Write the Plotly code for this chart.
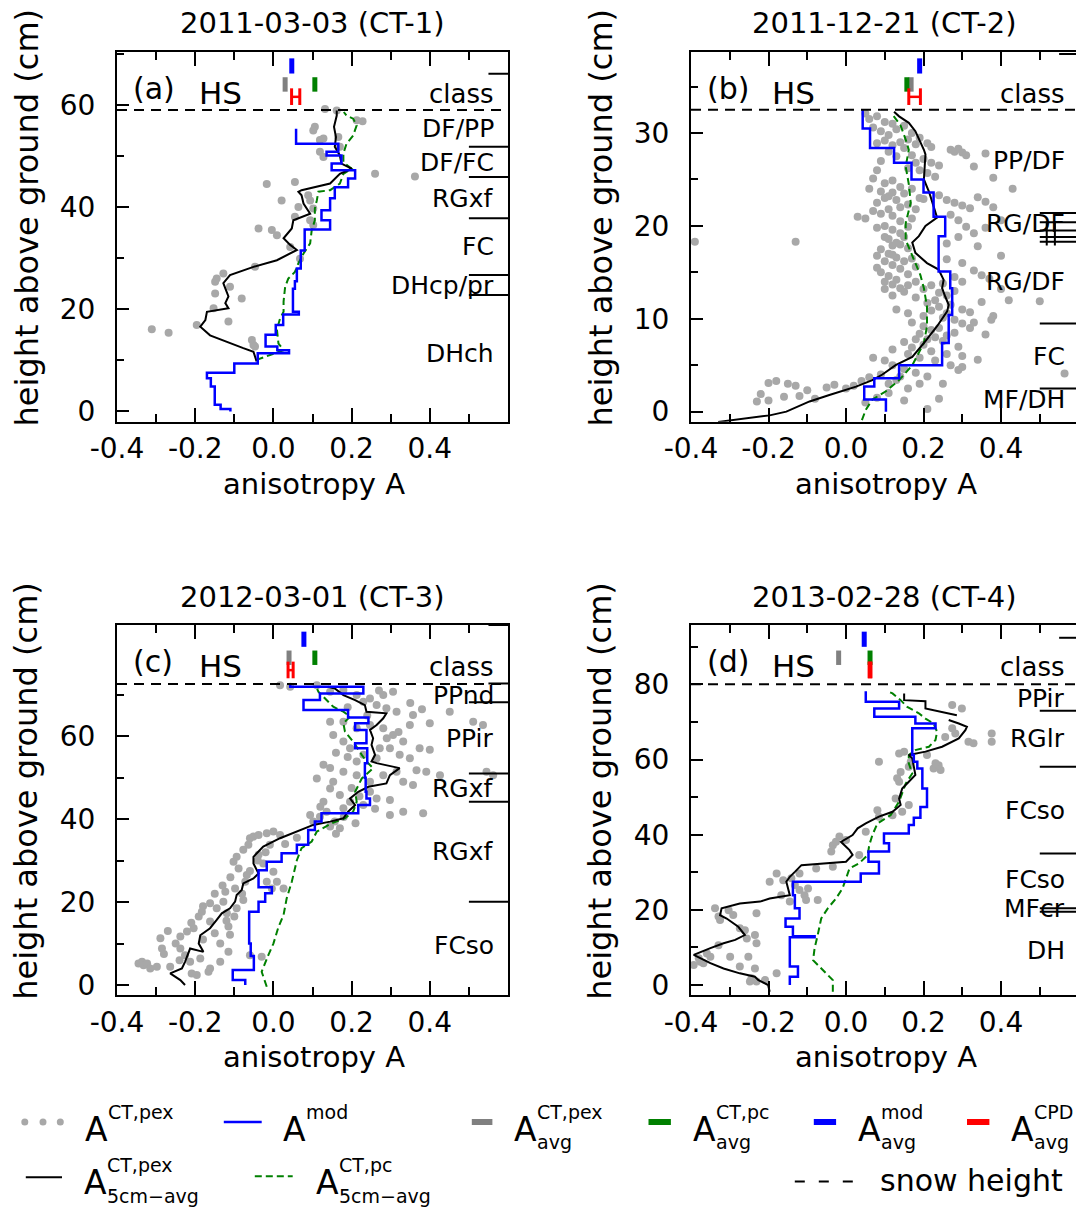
import plotly.graph_objects as go

W, H = 1076, 1207
FONT = "DejaVu Sans"
BLACK, BLUE, GREEN, RED, GREY = "#000000", "#0000ff", "#008000", "#ff0000", "#a8a8a8"

# ---------------------------------------------------------------------------
# Data: every profile is a list of (anisotropy A, height above ground in cm)
# ---------------------------------------------------------------------------

titles = ["2011-03-03 (CT-1)", "2011-12-21 (CT-2)", "2012-03-01 (CT-3)", "2013-02-28 (CT-4)"]
tags = ["(a)", "(b)", "(c)", "(d)"]
snow_height = [59.0, 32.5, 72.6, 80.0]

# profile-averaged anisotropy (drawn as short bars above the snow surface)
avg_pex = [0.030, 0.168, 0.040, -0.019]
avg_pc = [0.106, 0.157, 0.106, 0.062]
avg_mod = [0.047, 0.190, 0.078, 0.047]
avg_cpd = [0.057, 0.177, 0.044, 0.062]
avg_cpd_err = [0.0105, 0.015, 0.0065, 0.0]

# --- CT-1 -------------------------------------------------------------------
pex_a = [(0.162, 58.9), (0.132, 59.2), (0.106, 55.7), (0.102, 55.0), (0.213, 57.0), (0.228, 56.8),
         (0.119, 53.1), (0.128, 53.4), (0.166, 53.7), (0.170, 51.8), (0.119, 50.8), (0.128, 49.8),
         (0.260, 46.5), (0.362, 46.0), (-0.017, 44.5), (0.055, 44.9), (0.021, 41.3), (0.089, 42.3),
         (0.094, 41.3), (0.064, 40.0), (0.102, 39.7), (0.055, 38.1), (0.094, 37.4), (0.102, 36.5),
         (-0.038, 35.8), (-0.004, 35.5), (0.009, 34.5), (0.043, 32.2), (0.068, 29.9), (-0.047, 28.3),
         (-0.128, 27.0), (-0.145, 26.0), (-0.149, 25.4), (-0.111, 24.4), (-0.149, 23.1), (-0.081, 22.1),
         (-0.153, 20.2), (-0.115, 17.6), (-0.196, 16.9), (-0.311, 16.1), (-0.268, 15.4), (-0.055, 14.0),
         (-0.051, 13.0), (-0.047, 12.7)]
avg5_a = [(-0.043, 9.8), (-0.051, 11.7), (-0.077, 12.4), (-0.145, 14.3), (-0.162, 14.9), (-0.187, 16.6),
          (-0.174, 17.9), (-0.170, 19.5), (-0.115, 20.2), (-0.123, 21.2), (-0.115, 22.5), (-0.123, 24.1),
          (-0.128, 25.1), (-0.111, 26.7), (-0.051, 28.3), (0.009, 29.6), (0.060, 31.6), (0.043, 32.6),
          (0.026, 33.9), (0.047, 35.8), (0.051, 37.4), (0.094, 38.7), (0.077, 40.7), (0.072, 42.3),
          (0.064, 43.0), (0.072, 43.3), (0.106, 43.9), (0.145, 44.6), (0.170, 46.5), (0.200, 47.5),
          (0.174, 48.5), (0.170, 50.1), (0.157, 51.8), (0.160, 53.7), (0.155, 55.7), (0.162, 57.9),
          (0.162, 58.9)]
pc5_a = [(-0.043, 10.1), (-0.009, 11.1), (0.026, 12.0), (0.013, 13.3), (0.009, 16.0), (0.017, 18.2),
         (0.026, 19.5), (0.026, 21.5), (0.030, 24.4), (0.038, 26.0), (0.055, 27.3), (0.064, 29.0),
         (0.077, 30.9), (0.094, 32.9), (0.098, 35.5), (0.106, 37.4), (0.106, 39.7), (0.111, 41.3),
         (0.115, 43.0), (0.145, 43.3), (0.170, 44.6), (0.179, 46.5), (0.200, 47.5), (0.179, 48.8),
         (0.179, 50.5), (0.187, 52.4), (0.204, 54.0), (0.213, 56.0), (0.204, 57.3), (0.187, 57.9),
         (0.180, 58.6)]
# modelled layers: (A, layer bottom); the last entry marks the top of the uppermost layer
mod_a = [(-0.110, 0.0), (-0.135, 0.5), (-0.150, 1.3), (-0.160, 4.9), (-0.170, 6.5), (-0.100, 7.6),
         (-0.040, 9.4), (0.040, 11.4), (0.010, 12.0), (-0.020, 12.7), (0.006, 15.0), (0.025, 16.9),
         (0.065, 19.0), (0.050, 19.5), (0.055, 24.0), (0.060, 25.5), (0.070, 28.0), (0.080, 31.5),
         (0.145, 35.6), (0.123, 37.4), (0.145, 39.4), (0.157, 41.7), (0.191, 43.9), (0.209, 45.6),
         (0.149, 47.2), (0.174, 48.5), (0.136, 50.1), (0.166, 50.8), (0.058, 52.4), (0.058, 55.3)]
class_lines_a = [66.1, 51.8, 45.9, 37.8, 26.7, 22.8]
class_names_a = ["DF/PP", "DF/FC", "RGxf", "FC", "DHcp/pr", "DHch"]
class_pos_a = [55.3, 48.8, 41.7, 32.2, 24.7, 11.4]

# --- CT-2 -------------------------------------------------------------------
pex_b = [(0.05, 32.1), (0.06, 31.5), (0.08, 31.8), (0.10, 31.2), (0.12, 31.0), (0.15, 30.8), (0.07, 30.6),
         (0.09, 30.2), (0.13, 30.4), (0.17, 30.0), (0.11, 29.8), (0.19, 29.5), (0.21, 28.9), (0.22, 28.5),
         (0.27, 28.2), (0.28, 28.0), (0.29, 28.3), (0.30, 27.9), (0.31, 27.6), (0.36, 27.8), (0.15, 28.4),
         (0.17, 27.6), (0.20, 27.2), (0.22, 26.8), (0.24, 26.5), (0.16, 26.2), (0.19, 26.0),
         (0.07, 25.1), (0.10, 24.6), (0.12, 24.9), (0.14, 24.2), (0.09, 23.7), (0.11, 23.2), (0.13, 22.8),
         (0.15, 23.5), (0.17, 24.0), (0.16, 22.3), (0.08, 22.5), (0.20, 22.9), (0.24, 23.3), (0.26, 22.8),
         (0.28, 22.5), (0.30, 22.2), (0.34, 23.1), (0.36, 22.6), (0.32, 21.9), (0.38, 22.0),
         (0.03, 21.0), (0.05, 20.8), (0.09, 21.3), (0.12, 21.1), (0.14, 20.5), (0.10, 20.0), (0.12, 19.6),
         (0.14, 19.2), (0.11, 18.6), (0.13, 18.2), (0.15, 18.8), (0.16, 19.9), (0.17, 20.8), (0.27, 21.2),
         (0.29, 20.6), (0.31, 19.9), (0.33, 19.2), (0.29, 18.8), (0.26, 18.1), (-0.13, 18.3), (-0.39, 18.3),
         (0.09, 17.5), (0.11, 17.0), (0.13, 16.6), (0.10, 16.2), (0.12, 15.8), (0.14, 15.4), (0.09, 15.0),
         (0.11, 14.6), (0.13, 14.2), (0.16, 14.8), (0.18, 15.6), (0.26, 16.4), (0.30, 16.0), (0.33, 15.2),
         (0.35, 14.7), (0.37, 14.3), (0.30, 14.0), (0.25, 13.8), (0.28, 14.5),
         (0.10, 13.2), (0.12, 12.5), (0.15, 12.9), (0.18, 12.3), (0.21, 11.7), (0.23, 12.0), (0.27, 11.5),
         (0.30, 11.0), (0.32, 10.7), (0.35, 11.8), (0.13, 11.0), (0.16, 10.6), (0.20, 10.3), (0.25, 10.1),
         (0.38, 10.3), (0.50, 11.9), (0.375, 9.9),
         (0.17, 9.6), (0.20, 9.2), (0.22, 8.8), (0.19, 8.4), (0.23, 8.0), (0.25, 7.6), (0.20, 7.2),
         (0.17, 6.9), (0.22, 6.5), (0.26, 6.2), (0.29, 7.0), (0.28, 8.5), (0.12, 6.7), (0.15, 7.5),
         (0.30, 6.0), (0.34, 5.6),
         (0.07, 5.8), (0.10, 5.5), (0.12, 5.0), (0.15, 4.6), (0.18, 4.2), (0.21, 3.8), (0.09, 4.0),
         (0.06, 3.7), (0.04, 3.3), (0.13, 3.4), (0.25, 3.0), (0.29, 4.5), (0.564, 4.1),
         (-0.20, 3.1), (-0.18, 3.3), (-0.15, 3.0), (-0.13, 2.8), (-0.05, 2.6), (-0.03, 2.9), (0.00, 2.5),
         (0.02, 2.8), (-0.10, 2.3), (-0.22, 1.9), (-0.16, 1.6), (-0.12, 1.7), (-0.08, 1.4), (-0.20, 1.2),
         (-0.23, 1.1), (0.05, 1.0), (0.08, 1.5), (0.11, 2.0), (0.15, 1.2), (0.21, 0.3), (0.24, 1.4),
         (0.08, 28.9), (0.10, 29.2), (0.12, 28.7), (0.14, 29.0), (0.16, 29.3), (0.18, 28.8), (0.11, 28.0),
         (0.13, 27.5), (0.09, 27.0), (0.18, 26.8), (0.21, 25.7), (0.23, 25.3), (0.08, 26.0), (0.06, 24.0),
         (0.10, 23.0), (0.12, 23.6), (0.14, 22.0), (0.18, 21.8), (0.19, 23.0), (0.11, 21.8), (0.07, 21.6),
         (0.08, 19.8), (0.10, 18.8), (0.12, 17.9), (0.14, 18.0), (0.16, 17.6), (0.08, 16.8), (0.12, 16.9),
         (0.15, 16.2), (0.17, 16.5), (0.08, 15.5), (0.10, 14.0), (0.12, 13.7), (0.14, 13.3), (0.16, 13.6),
         (0.18, 14.0), (0.20, 13.2), (0.22, 13.6), (0.24, 12.8), (0.26, 12.5), (0.28, 13.0), (0.22, 10.9),
         (0.24, 11.3), (0.26, 10.6), (0.28, 9.9), (0.30, 9.5), (0.32, 9.0), (0.24, 9.0), (0.26, 8.2),
         (0.21, 7.8), (0.18, 7.8), (0.16, 6.2), (0.19, 5.8), (0.23, 5.5), (0.27, 5.0), (0.30, 4.8),
         (0.33, 9.6), (0.36, 8.3), (0.40, 13.2), (0.42, 12.0), (0.40, 16.8), (0.34, 17.8), (0.36, 19.8),
         (0.40, 20.6), (0.43, 24.0), (0.38, 25.2), (0.33, 26.4), (0.11, 3.0), (0.16, 2.5), (0.14, 3.8),
         (0.19, 3.0)]
avg5_b = [(-0.330, -1.1), (-0.197, -0.4), (-0.154, 0.0), (-0.094, 1.1), (-0.043, 1.8), (0.026, 2.7),
          (0.068, 3.4), (0.094, 4.0), (0.128, 5.0), (0.171, 5.9), (0.205, 7.6), (0.235, 9.2),
          (0.261, 10.8), (0.265, 11.5), (0.256, 12.4), (0.248, 13.3), (0.252, 14.2), (0.239, 15.3),
          (0.209, 16.0), (0.179, 17.1), (0.171, 18.2), (0.188, 18.9), (0.205, 20.0), (0.235, 20.9),
          (0.226, 22.1), (0.214, 23.7), (0.201, 25.0), (0.205, 27.7), (0.201, 28.2), (0.188, 29.3),
          (0.179, 30.2), (0.162, 31.1), (0.137, 31.8), (0.124, 32.3)]
pc5_b = [(0.041, -0.9), (0.051, 0.2), (0.068, 1.3), (0.103, 2.2), (0.137, 3.4), (0.171, 5.0),
         (0.201, 7.4), (0.209, 9.2), (0.209, 11.3), (0.201, 13.3), (0.192, 14.7), (0.171, 16.7),
         (0.154, 18.5), (0.154, 20.3), (0.167, 22.5), (0.162, 24.5), (0.154, 26.4), (0.162, 28.2),
         (0.154, 29.3), (0.141, 30.8), (0.120, 32.0)]
mod_b = [(0.103, 0.0), (0.047, 1.3), (0.073, 2.7), (0.137, 3.6), (0.248, 5.0), (0.265, 7.4),
         (0.274, 10.4), (0.269, 13.3), (0.239, 15.1), (0.256, 18.9), (0.226, 21.0), (0.200, 23.6),
         (0.169, 25.0), (0.124, 26.8), (0.062, 28.4), (0.043, 30.5), (0.043, 32.6)]
class_lines_b = [38.5, 21.4, 20.4, 19.5, 18.8, 18.3, 9.5, 2.5]
class_names_b = ["PP/DF", "RG/DF", "RG/DF", "FC", "MF/DH"]
class_pos_b = [27.0, 20.3, 14.0, 5.9, 1.3]

# --- CT-3 -------------------------------------------------------------------
pex_c = [(-0.336, 5.6), (-0.332, 4.8), (-0.345, 5.2), (-0.323, 5.2), (-0.285, 8.8), (-0.289, 11.3),
         (-0.264, 4.4), (-0.238, 8.8), (-0.226, 7.2), (-0.213, 5.6), (-0.196, 2.4), (-0.209, 2.8),
         (-0.166, 3.2), (-0.238, 11.7), (-0.221, 12.9), (-0.187, 6.4), (-0.162, 4.0), (-0.298, 4.4),
         (-0.315, 4.0),
         (-0.191, 16.5), (-0.183, 17.7), (-0.162, 15.3), (-0.145, 18.5), (-0.128, 20.1), (-0.119, 17.3),
         (-0.115, 14.1), (-0.094, 18.5), (-0.077, 20.5), (-0.162, 19.7), (-0.123, 22.5), (-0.098, 23.3),
         (-0.072, 24.9), (-0.136, 10.0), (-0.111, 12.1), (-0.204, 13.7), (-0.060, 7.2), (-0.030, 6.8),
         (-0.115, 8.0), (-0.136, 5.6),
         (-0.102, 29.7), (-0.094, 30.9), (-0.077, 32.6), (-0.064, 33.8), (-0.060, 35.4), (-0.051, 35.8),
         (-0.038, 36.2), (-0.017, 36.6), (0.000, 37.0), (0.017, 36.2), (-0.009, 33.8), (-0.038, 31.4),
         (-0.026, 29.3), (0.000, 27.3), (0.009, 24.9), (-0.068, 26.5), (-0.089, 28.1), (0.026, 23.3),
         (-0.004, 23.3), (-0.017, 24.9), (0.094, 41.0), (0.102, 39.4), (0.119, 40.6), (0.136, 41.8),
         (0.170, 37.8), (0.145, 38.2), (0.157, 39.4),
         (0.017, 72.3), (0.043, 71.9), (0.111, 72.3), (0.145, 70.7), (0.179, 71.1), (0.213, 69.9),
         (0.247, 69.1), (0.281, 69.9), (0.306, 70.7), (0.264, 67.5), (0.230, 68.3), (0.289, 66.7),
         (0.315, 65.9), (0.357, 65.1), (0.400, 63.1), (0.451, 65.9), (0.179, 63.5), (0.213, 61.9),
         (0.247, 62.7), (0.281, 61.9), (0.306, 60.3), (0.332, 58.7), (0.374, 57.1), (0.400, 56.7),
         (0.511, 63.5), (0.536, 62.7), (0.145, 63.5), (0.153, 60.3), (0.179, 58.7), (0.196, 57.1),
         (0.230, 55.5), (0.264, 54.7), (0.298, 57.1), (0.323, 55.5), (0.349, 54.7), (0.128, 53.1),
         (0.145, 52.3), (0.179, 51.4), (0.213, 50.6), (0.247, 49.0), (0.281, 50.6), (0.315, 51.4),
         (0.366, 51.8), (0.391, 51.4), (0.426, 50.6), (0.332, 49.0), (0.357, 48.2), (0.145, 47.4),
         (0.170, 45.8), (0.196, 44.2), (0.230, 43.4), (0.264, 45.0), (0.298, 44.6), (0.332, 41.8),
         (0.383, 41.4), (0.298, 41.0), (0.179, 42.6), (0.128, 44.2), (0.153, 49.0), (0.247, 46.6),
         (0.111, 49.8), (0.213, 53.9), (0.272, 57.1), (0.349, 62.7), (0.545, 51.4), (0.562, 50.6),
         (-0.25, 10.0), (-0.27, 13.0), (-0.18, 11.0), (-0.15, 12.5), (-0.12, 15.5), (-0.10, 16.5),
         (-0.08, 22.0), (-0.06, 27.5), (-0.04, 30.0), (-0.02, 32.0), (0.03, 34.0), (0.06, 35.5),
         (-0.11, 26.0), (-0.13, 24.0), (-0.15, 22.0), (-0.18, 19.0), (-0.21, 15.0), (-0.24, 6.0),
         (-0.28, 7.5), (0.12, 43.0), (0.18, 40.5), (0.21, 39.0), (0.16, 36.5), (0.20, 47.5),
         (0.22, 45.5), (0.26, 42.5), (0.19, 55.0), (0.16, 56.0), (0.29, 59.5), (0.32, 61.0),
         (0.24, 65.0), (0.19, 67.0), (0.27, 71.0), (0.35, 68.0), (0.38, 66.5)]
avg5_c = [(-0.226, 0.0), (-0.238, 1.2), (-0.264, 2.8), (-0.234, 4.0), (-0.226, 5.6), (-0.213, 8.8),
          (-0.179, 8.0), (-0.191, 10.0), (-0.187, 12.0), (-0.162, 13.7), (-0.145, 15.7), (-0.132, 17.3),
          (-0.111, 18.5), (-0.098, 20.1), (-0.094, 21.7), (-0.081, 22.9), (-0.077, 24.5), (-0.051, 25.7),
          (-0.038, 26.9), (-0.051, 29.3), (-0.051, 30.9), (-0.026, 33.4), (0.017, 35.4), (0.068, 37.4),
          (0.102, 38.6), (0.145, 39.4), (0.179, 40.2), (0.191, 41.8), (0.209, 43.4), (0.196, 45.0),
          (0.217, 46.6), (0.243, 47.8), (0.289, 48.6), (0.298, 50.6), (0.323, 52.3), (0.264, 53.5),
          (0.251, 53.9), (0.260, 55.5), (0.251, 57.9), (0.255, 59.5), (0.247, 61.5), (0.264, 62.7),
          (0.281, 64.3), (0.289, 65.5), (0.238, 65.9), (0.234, 67.5), (0.209, 68.7), (0.179, 69.9),
          (0.157, 71.5), (0.140, 71.9)]
pc5_c = [(-0.017, -0.4), (-0.030, 3.2), (-0.013, 7.2), (0.000, 10.0), (0.013, 14.0), (0.026, 16.9),
         (0.034, 20.9), (0.047, 24.9), (0.060, 30.1), (0.072, 33.0), (0.098, 34.6), (0.111, 37.0),
         (0.149, 39.0), (0.183, 40.2), (0.204, 41.8), (0.213, 44.2), (0.209, 46.6), (0.226, 49.8),
         (0.255, 52.3), (0.238, 53.9), (0.226, 55.5), (0.204, 58.7), (0.183, 61.1), (0.179, 63.1),
         (0.196, 64.7), (0.179, 65.9), (0.153, 67.1), (0.136, 68.7), (0.115, 70.7), (0.110, 71.9)]
mod_c = [(-0.072, 0.0), (-0.104, 1.2), (-0.050, 3.6), (-0.058, 7.0), (-0.062, 10.0), (-0.038, 17.7),
         (-0.021, 20.1), (-0.004, 22.1), (-0.038, 23.6), (-0.017, 27.7), (0.021, 29.7), (0.060, 31.8),
         (0.089, 33.8), (0.106, 37.4), (0.123, 39.4), (0.217, 41.4), (0.247, 43.4), (0.238, 45.0),
         (0.236, 46.6), (0.234, 50.0), (0.240, 53.5), (0.209, 57.1), (0.238, 58.3), (0.209, 61.5),
         (0.243, 63.1), (0.191, 64.5), (0.077, 66.3), (0.119, 68.7), (0.230, 70.3), (0.043, 71.9),
         (0.043, 72.7)]
class_lines_c = [86.8, 72.7, 68.2, 51.0, 44.2, 20.1]
class_names_c = ["PPnd", "PPir", "RGxf", "RGxf", "FCso"]
class_pos_c = [69.7, 59.5, 47.4, 32.2, 9.6]

# --- CT-4 -------------------------------------------------------------------
pex_d = [(-0.393, 5.3), (-0.380, 7.1), (-0.368, 5.8), (-0.350, 7.5), (-0.359, 8.4), (-0.329, 10.6),
         (-0.299, 7.5), (-0.252, 7.5), (-0.274, 4.9), (-0.235, 4.4), (-0.209, 1.3), (-0.179, 3.1),
         (-0.248, 0.9), (-0.376, 6.2), (-0.244, 1.8), (-0.231, 0.9),
         (-0.338, 20.4), (-0.329, 18.2), (-0.325, 17.3), (-0.303, 19.9), (-0.291, 18.6), (-0.274, 15.1),
         (-0.261, 14.6), (-0.231, 11.1), (-0.235, 13.3), (-0.256, 12.4), (-0.231, 19.1),
         (-0.197, 27.5), (-0.179, 29.7), (-0.162, 27.9), (-0.141, 28.4), (-0.132, 26.6), (-0.120, 25.3),
         (-0.107, 23.9), (-0.103, 22.6), (-0.073, 22.6), (-0.098, 25.7), (-0.167, 23.9), (-0.145, 22.2),
         (-0.120, 29.7), (-0.077, 31.0), (-0.034, 31.5), (-0.038, 35.5), (-0.034, 37.2), (-0.026, 38.1),
         (-0.017, 39.5), (0.000, 38.6), (0.034, 34.6), (0.051, 40.8), (0.081, 46.5), (0.085, 44.8),
         (0.120, 45.2), (0.145, 46.1), (0.162, 47.9), (0.128, 49.6), (0.137, 54.1), (0.132, 55.0),
         (0.141, 56.7), (0.085, 59.4), (0.137, 61.6), (0.150, 62.1), (0.167, 59.4), (0.162, 58.1),
         (0.209, 61.2), (0.226, 57.6), (0.244, 57.2), (0.239, 58.5), (0.274, 74.5), (0.299, 73.6),
         (0.274, 68.3), (0.282, 66.9), (0.316, 64.7), (0.329, 64.3), (0.376, 66.9), (0.376, 64.7),
         (0.256, 66.0), (0.231, 59.0)]
avg5_d = [(-0.197, -1.8), (-0.201, 0.0), (-0.226, 1.3), (-0.235, 2.2), (-0.274, 3.1), (-0.316, 4.4),
          (-0.350, 5.8), (-0.393, 8.0), (-0.350, 9.8), (-0.316, 11.1), (-0.286, 12.0), (-0.261, 13.3),
          (-0.278, 15.5), (-0.308, 17.7), (-0.325, 18.6), (-0.321, 20.4), (-0.274, 21.7), (-0.222, 22.2),
          (-0.197, 23.0), (-0.145, 23.9), (-0.154, 27.5), (-0.145, 28.8), (-0.132, 30.1), (-0.115, 31.9),
          (0.000, 32.8), (0.017, 34.6), (0.009, 35.9), (-0.013, 38.1), (0.017, 39.9), (0.030, 41.7),
          (0.051, 43.0), (0.085, 44.8), (0.120, 46.1), (0.141, 47.9), (0.137, 49.6), (0.145, 52.3),
          (0.162, 54.1), (0.179, 55.9), (0.175, 58.1), (0.171, 60.3), (0.162, 61.2), (0.205, 62.1),
          (0.248, 63.4), (0.291, 65.6), (0.308, 67.8), (0.312, 68.7), (0.291, 69.6), (0.265, 70.5),
          (None, None),
          (0.286, 71.8), (0.205, 73.6), (0.205, 75.5), (0.150, 75.8), (0.150, 77.6)]
pc5_d = [(-0.034, -1.8), (-0.034, 1.3), (-0.085, 6.6), (-0.081, 9.8), (-0.073, 13.3), (-0.064, 17.7),
         (-0.047, 20.4), (-0.026, 23.0), (-0.009, 25.7), (0.009, 31.0), (0.034, 32.4), (0.056, 34.6),
         (0.060, 37.2), (0.068, 39.9), (0.081, 43.0), (0.115, 45.2), (0.137, 48.8), (0.154, 53.6),
         (0.171, 56.3), (0.162, 59.0), (0.162, 61.2), (0.179, 62.5), (0.214, 63.4), (0.231, 65.2),
         (0.235, 67.4), (0.226, 69.6), (0.205, 70.9), (0.188, 72.3), (0.158, 74.0), (0.141, 75.8),
         (0.120, 77.6), (0.111, 78.0)]
mod_d = [(-0.145, 0.0), (-0.124, 2.2), (-0.145, 4.9), (-0.081, 12.7), (-0.137, 13.0), (-0.156, 15.5),
         (-0.120, 17.7), (-0.132, 20.4), (-0.137, 23.9), (0.038, 27.5), (0.085, 29.7), (0.058, 32.8),
         (0.111, 35.5), (0.098, 37.7), (0.162, 40.3), (0.175, 42.6), (0.192, 44.5), (0.209, 47.4),
         (0.197, 52.3), (0.184, 57.6), (0.175, 59.4), (0.171, 61.2), (0.231, 68.3), (0.179, 69.6),
         (0.073, 71.4), (0.137, 73.6), (0.051, 75.4), (0.051, 78.2)]
class_lines_d = [92.4, 73.0, 58.1, 35.0, 20.4, 19.5]
class_names_d = ["PPir", "RGlr", "FCso", "FCso", "MFcr", "DH"]
class_pos_d = [76.2, 65.6, 46.5, 28.0, 20.4, 9.3]

pex = [pex_a, pex_b, pex_c, pex_d]
avg5 = [avg5_a, avg5_b, avg5_c, avg5_d]
pc5 = [pc5_a, pc5_b, pc5_c, pc5_d]
mod = [mod_a, mod_b, mod_c, mod_d]
class_lines = [class_lines_a, class_lines_b, class_lines_c, class_lines_d]
class_names = [class_names_a, class_names_b, class_names_c, class_names_d]
class_pos = [class_pos_a, class_pos_b, class_pos_c, class_pos_d]

# ---------------------------------------------------------------------------
# Layout geometry (pixels of the 1076 x 1207 page)
# ---------------------------------------------------------------------------
COL_PX = [(117.0, 508.0), (691.0, 1076.0)]
ROW_PX = [(51.7, 421.7), (625.0, 995.0)]
X_RANGES = [[-0.4, 0.6], [-0.4, 0.5935]]
Y_RANGES = [[-2.0, 70.4], [-1.08, 38.76], [-2.4, 86.8], [-2.66, 95.8]]
Y_MAJOR = [[0, 20, 40, 60], [0, 10, 20, 30], [0, 20, 40, 60], [0, 20, 40, 60, 80]]
Y_MINOR = [[10, 30, 50, 70], [5, 15, 25, 35], [10, 30, 50, 70], [10, 30, 50, 70, 90]]


def fx(x):
    return x / W


def fy(y):
    return 1.0 - y / H


def split(pairs):
    return [p[0] for p in pairs], [p[1] for p in pairs]


fig = go.Figure()
shapes, annots = [], []
layout = dict(
    template="none",
    width=W, height=H, autosize=False,
    margin=dict(l=0, r=0, t=0, b=0, pad=0),
    paper_bgcolor="white", plot_bgcolor="white",
    font=dict(family=FONT, color=BLACK),
    showlegend=False,
)

for i in range(4):
    s = "" if i == 0 else str(i + 1)
    xa, ya = "x" + s, "y" + s
    col, row = i % 2, i // 2
    (xl, xr), (yt, yb) = COL_PX[col], ROW_PX[row]

    axis_common = dict(showline=True, linecolor=BLACK, linewidth=2, showgrid=False, zeroline=False,
                       automargin=False, ticks="inside", tickcolor=BLACK, tickwidth=2,
                       tickfont=dict(family=FONT, size=28, color=BLACK))
    layout["xaxis" + s] = dict(
        axis_common, domain=[fx(xl), fx(xr)], range=X_RANGES[col], anchor=ya,
        tickmode="array", tickvals=[-0.4, -0.2, 0.0, 0.2, 0.4],
        ticktext=["-0.4", "-0.2", "0.0", "0.2", "0.4"], ticklen=14, mirror="ticks",
        ticklabelstandoff=1,
        minor=dict(tickmode="array", tickvals=[-0.3, -0.1, 0.1, 0.3, 0.5], ticks="inside", ticklen=8,
                   tickwidth=2, tickcolor=BLACK, showgrid=False),
    )
    layout["yaxis" + s] = dict(
        axis_common, domain=[fy(yb), fy(yt)], range=Y_RANGES[i], anchor=xa,
        tickmode="array", tickvals=Y_MAJOR[i], ticktext=[str(v) for v in Y_MAJOR[i]],
        ticklen=12, mirror=True, ticklabelstandoff=14,
        minor=dict(tickmode="array", tickvals=Y_MINOR[i], ticks="inside", ticklen=7, tickwidth=2,
                   tickcolor=BLACK, showgrid=False),
    )

    # measured points, running means and modelled layers
    px_, py_ = split(pex[i])
    fig.add_trace(go.Scatter(x=px_, y=py_, mode="markers", xaxis=xa, yaxis=ya,
                             marker=dict(color=GREY, size=8, line=dict(width=0))))
    gx, gy = split(pc5[i])
    fig.add_trace(go.Scatter(x=gx, y=gy, mode="lines", xaxis=xa, yaxis=ya,
                             line=dict(color=GREEN, width=2, dash="7px,4px")))
    bx, by = split(avg5[i])
    fig.add_trace(go.Scatter(x=bx, y=by, mode="lines", xaxis=xa, yaxis=ya, connectgaps=False,
                             line=dict(color=BLACK, width=2)))
    mx, my = split(mod[i])
    fig.add_trace(go.Scatter(x=mx, y=my, mode="lines", xaxis=xa, yaxis=ya,
                             line=dict(color=BLUE, width=2.5, shape="vh")))

    # snow height
    shapes.append(dict(type="line", xref=xa + " domain", yref=ya, x0=0, x1=1,
                       y0=snow_height[i], y1=snow_height[i],
                       line=dict(color=BLACK, width=2, dash="10px,7px")))

    # profile averages above the snow surface
    for val, color, (y0, y1) in [(avg_mod[i], BLUE, (0.941, 0.982)),
                                 (avg_pex[i], "#808080", (0.892, 0.931)),
                                 (avg_pc[i], GREEN, (0.892, 0.931))]:
        shapes.append(dict(type="line", xref=xa, yref=ya + " domain", x0=val, x1=val, y0=y0, y1=y1,
                           line=dict(color=color, width=5)))
    c, e = avg_cpd[i], avg_cpd_err[i]
    for xv in (c - e, c + e):
        shapes.append(dict(type="line", xref=xa, yref=ya + " domain", x0=xv, x1=xv, y0=0.856, y1=0.901,
                           line=dict(color=RED, width=3 if e > 0 else 4.5)))
    if e > 0:
        shapes.append(dict(type="line", xref=xa, yref=ya + " domain", x0=c - e, x1=c + e,
                           y0=0.878, y1=0.878, line=dict(color=RED, width=2.5)))

    # grain-type class boundaries along the right edge
    for hb in class_lines[i]:
        x0 = 0.55 if hb > snow_height[i] else 0.5
        shapes.append(dict(type="line", xref=xa, yref=ya, x0=x0, x1=0.6, y0=hb, y1=hb,
                           line=dict(color=BLACK, width=2)))
    if i == 1:
        for xv in (0.518, 0.539):
            shapes.append(dict(type="line", xref=xa, yref=ya, x0=xv, x1=xv, y0=17.9, y1=20.5,
                               line=dict(color=BLACK, width=2)))
    for name, hp in zip(class_names[i], class_pos[i]):
        annots.append(dict(text=name, xref=xa, yref=ya, x=0.567, y=hp, xanchor="right",
                           yanchor="middle", showarrow=False, font=dict(size=25), borderpad=0))

    annots.append(dict(text="class", xref=xa, yref=ya + " domain", x=0.567, y=0.887,
                       xanchor="right", yanchor="middle", showarrow=False, font=dict(size=26),
                       borderpad=0))
    annots.append(dict(text=tags[i], xref=xa + " domain", yref=ya + " domain", x=0.036, y=0.901,
                       xanchor="left", yanchor="middle", showarrow=False, font=dict(size=30)))
    annots.append(dict(text="HS", xref=xa + " domain", yref=ya + " domain", x=0.205, y=0.889,
                       xanchor="left", yanchor="middle", showarrow=False, font=dict(size=31)))

    # titles and axis titles
    cx = (xl + (xr if col == 0 else 1078.5)) / 2
    dy = row * 573.3
    annots.append(dict(text=titles[i], xref="paper", yref="paper", x=fx(cx), y=fy(23.5 + dy),
                       xanchor="center", yanchor="middle", showarrow=False, font=dict(size=29)))
    annots.append(dict(text="anisotropy A", xref="paper", yref="paper", x=fx(cx + 1), y=fy(483.5 + dy),
                       xanchor="center", yanchor="middle", showarrow=False, font=dict(size=29)))
    annots.append(dict(text="height above ground (cm)", xref="paper", yref="paper",
                       x=fx(26.5 + col * 574), y=fy(218 + dy), textangle=-90,
                       xanchor="center", yanchor="middle", showarrow=False, font=dict(size=32)))

# ---------------------------------------------------------------------------
# Legend (drawn in page coordinates)
# ---------------------------------------------------------------------------


def leg_line(x0, x1, y, color, width, dash="solid"):
    shapes.append(dict(type="line", xref="paper", yref="paper", x0=fx(x0), x1=fx(x1), y0=fy(y), y1=fy(y),
                       line=dict(color=color, width=width, dash=dash)))


def leg_text(x, y, text, size):
    annots.append(dict(text=text, xref="paper", yref="paper", x=fx(x), y=fy(y), xanchor="left",
                       yanchor="middle", showarrow=False, font=dict(size=size), borderpad=0))


def leg_symbol(xa_, sup, sub, row_y):
    a_y, sup_y, sub_y = row_y
    leg_text(xa_, a_y, "A", 33)
    leg_text(xa_ + 23, sup_y, sup, 19)
    if sub:
        leg_text(xa_ + 23, sub_y, sub, 19)


ROW1 = (1129.8, 1111.5, 1142.3)
ROW2 = (1182.5, 1164.8, 1196.0)

for xd in (24.8, 43.0, 60.3):
    shapes.append(dict(type="circle", xref="paper", yref="paper", x0=fx(xd - 3.5), x1=fx(xd + 3.5),
                       y0=fy(1122 + 3.5), y1=fy(1122 - 3.5), fillcolor=GREY, line=dict(width=0)))
leg_symbol(84.4, "CT,pex", None, ROW1)
leg_line(223.8, 261.7, 1122, BLUE, 2.5)
leg_symbol(282.4, "mod", None, ROW1)
leg_line(471.8, 492.4, 1122, "#808080", 6)
leg_symbol(513.0, "CT,pex", "avg", ROW1)
leg_line(648.5, 670.9, 1122, GREEN, 6)
leg_symbol(691.5, "CT,pc", "avg", ROW1)
leg_line(813.8, 836.1, 1122, BLUE, 6)
leg_symbol(856.8, "mod", "avg", ROW1)
leg_line(967.0, 989.4, 1122, RED, 6)
leg_symbol(1010.0, "CPD", "avg", ROW1)

leg_line(25.8, 62.0, 1177.3, BLACK, 2)
leg_symbol(82.6, "CT,pex", "5cm\u2212avg", ROW2)
leg_line(254.8, 292.7, 1176.3, GREEN, 2, "7px,4px")
leg_symbol(315.0, "CT,pc", "5cm\u2212avg", ROW2)
leg_line(794.8, 853.4, 1181.4, BLACK, 2, "10px,14px")
leg_text(879.2, 1180.5, "snow height", 30)

layout["shapes"] = shapes
layout["annotations"] = annots
fig.update_layout(**layout)
fig.write_html("out.html")
